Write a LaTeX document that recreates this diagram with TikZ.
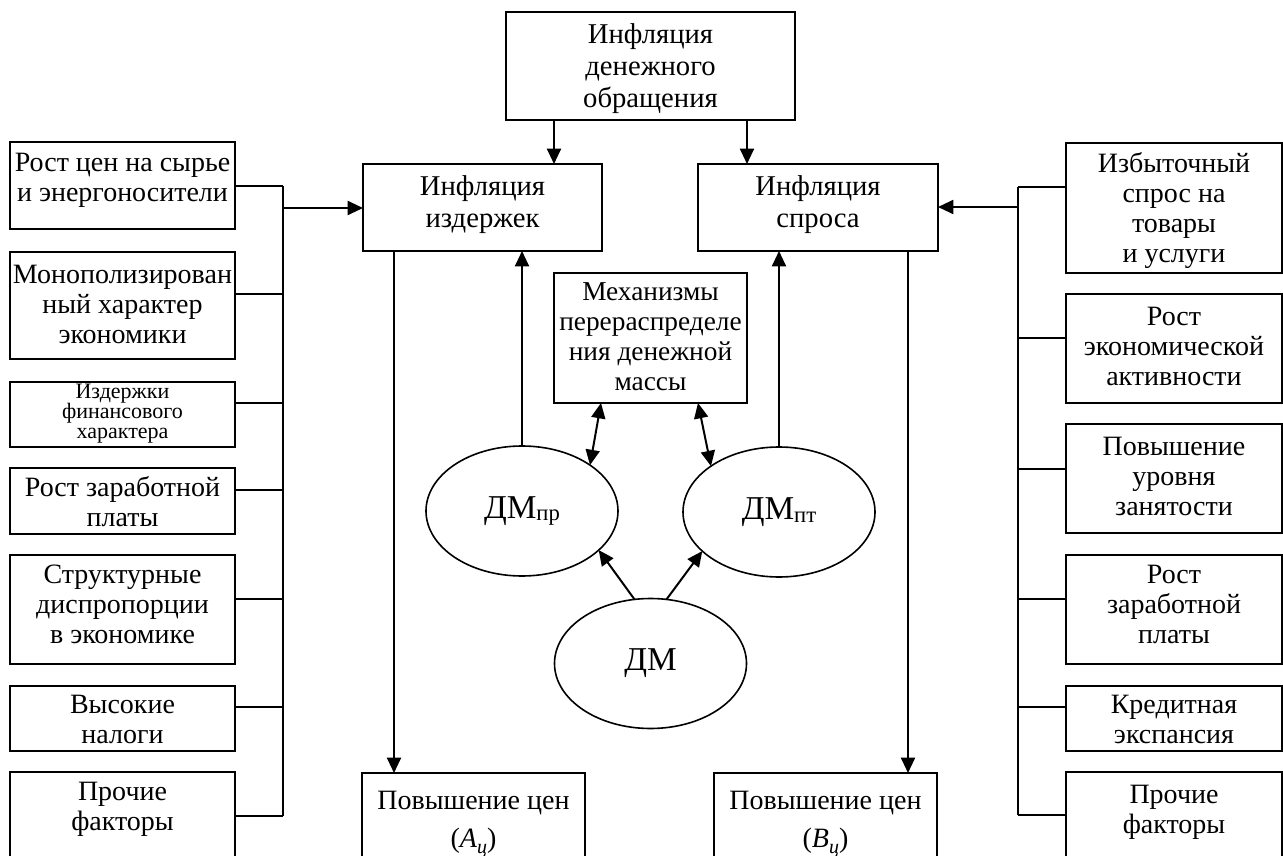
\documentclass[tikz,border=0pt]{standalone}
\usepackage{fontspec}
\setmainfont{Liberation Serif}
\usetikzlibrary{arrows.meta,shapes.geometric}
\newcommand\pxbox[6]{%
  \node[boxst, minimum width={(#4-#2)*0.75pt}, minimum height={(#5-#3)*0.75pt}, #6] (#1) at ({(#2+#4)/2},{(#3+#5)/2}) {};}
\newcommand\pxtxt[6][24]{%
  \node[txtst, #5] (#2) at ([yshift={-(#4-#1)*0.75pt}]#3.north) {\rule{0pt}{\dimexpr #1pt*3/4\relax}#6};}
\newcommand\dmtext[1]{{\fontsize{25}{25}\selectfont ДМ}{\fontsize{17}{17}\selectfont\raisebox{-0.12em}{#1}}}
\begin{document}
\begin{tikzpicture}[x=0.75pt,y=-0.75pt,
  boxst/.style={draw, line width=1.2pt, rectangle, inner sep=0pt, outer sep=0pt},
  txtst/.style={align=center, inner sep=0pt, anchor=north, font=\fontsize{21}{22.5}\selectfont},
  smalltxt/.style={font=\fontsize{16.5}{15}\selectfont},
  ell/.style={draw, line width=1.2pt, ellipse, inner sep=0pt, outer sep=0pt, minimum width=192*0.75pt, minimum height=130*0.75pt},
  conn/.style={line width=1.5pt},
  arr/.style={line width=1.5pt, -{Triangle[length=11.5pt,width=10.5pt]}},
  darr/.style={line width=1.5pt, {Triangle[length=11.5pt,width=10.5pt]}-{Triangle[length=11.5pt,width=10.5pt]}}]
\fill[white] (0,0) rectangle (1283,856);
\useasboundingbox (0,0) rectangle (1283,856);

% central boxes
\pxbox{top}{506}{12}{795}{120}{}
\pxtxt{topt}{top}{31}{font=\fontsize{21.5}{24}\selectfont}{Инфляция\\денежного\\обращения}
\pxbox{izd}{363}{164}{602}{251}{}
\pxtxt{izdt}{izd}{31}{font=\fontsize{21.5}{24}\selectfont}{Инфляция\\издержек}
\pxbox{spr}{698}{164}{938}{251}{}
\pxtxt{sprt}{spr}{31}{font=\fontsize{21.5}{24}\selectfont}{Инфляция\\спроса}
\pxbox{mech}{554}{273}{747}{403}{}
\pxtxt{mecht}{mech}{27}{font=\fontsize{20.5}{22.5}\selectfont}{Механизмы\\перераспределе\\ния денежной\\массы}
\pxbox{pa}{362}{773}{585}{880}{}
\pxtxt{pat}{pa}{36}{}{Повышение цен\\[6pt](\textit{A}{\fontsize{15}{15}\selectfont\raisebox{-0.3em}{\textit{ц}}})}
\pxbox{pb}{714}{773}{937}{880}{}
\pxtxt{pbt}{pb}{36}{}{Повышение цен\\[6pt](\textit{B}{\fontsize{15}{15}\selectfont\raisebox{-0.3em}{\textit{ц}}})}

% ellipses
\node[ell] (dmpr) at (522,511) {\dmtext{пр}};
\node[ell] (dmpt) at (779,512) {\dmtext{пт}};
\node[ell] (dm) at (650.5,663.5) {{\fontsize{25}{25}\selectfont ДМ}};

% left boxes
\pxbox{L1}{10}{142}{235}{229}{}
\pxtxt{L1t}{L1}{29}{}{Рост цен на сырье\\и энергоносители}
\pxbox{L2}{10}{252}{235}{359}{}
\pxtxt{L2t}{L2}{31}{}{Монополизирован\\ный характер\\экономики}
\pxbox{L3}{10}{382}{235}{447}{}
\pxtxt[15]{L3t}{L3}{16}{smalltxt}{Издержки\\финансового\\характера}
\pxbox{L4}{10}{468}{235}{534}{}
\pxtxt{L4t}{L4}{28}{}{Рост заработной\\платы}
\pxbox{L5}{10}{555}{235}{664}{}
\pxtxt{L5t}{L5}{28}{}{Структурные\\диспропорции\\в экономике}
\pxbox{L6}{10}{686}{235}{751}{}
\pxtxt{L6t}{L6}{27}{}{Высокие\\налоги}
\pxbox{L7}{10}{772}{235}{880}{}
\pxtxt{L7t}{L7}{28}{}{Прочие\\факторы}

% right boxes
\pxbox{R1}{1066}{143}{1282}{273}{}
\pxtxt{R1t}{R1}{29}{}{Избыточный\\спрос на\\товары\\и услуги}
\pxbox{R2}{1066}{294}{1282}{403}{}
\pxtxt{R2t}{R2}{31}{}{Рост\\экономической\\активности}
\pxbox{R3}{1066}{424}{1282}{533}{}
\pxtxt{R3t}{R3}{31}{}{Повышение\\уровня\\занятости}
\pxbox{R4}{1066}{555}{1282}{664}{}
\pxtxt{R4t}{R4}{28}{}{Рост\\заработной\\платы}
\pxbox{R5}{1066}{686}{1282}{751}{}
\pxtxt{R5t}{R5}{27}{}{Кредитная\\экспансия}
\pxbox{R6}{1066}{772}{1282}{880}{}
\pxtxt{R6t}{R6}{31}{}{Прочие\\факторы}

% helper coordinates
\coordinate (a1) at (554,0);
\coordinate (a2) at (747,0);
\coordinate (d1) at (394,0);
\coordinate (d2) at (908,0);
\coordinate (m1) at (601,0);
\coordinate (m2) at (698,0);

% left bus
\coordinate (jL1) at (283,186);
\coordinate (jL2) at (283,294);
\coordinate (jL3) at (283,403);
\coordinate (jL4) at (283,490);
\coordinate (jL5) at (283,599);
\coordinate (jL6) at (283,707);
\coordinate (jL7) at (283,816);
\coordinate (jLa) at (283,208);
\foreach \i in {1,...,7} {\draw[conn] (L\i.east |- jL\i) -- (jL\i);}
\draw[conn] (jL1) -- (jL7);
\draw[arr] (jLa) -- (izd.west |- jLa);

% right bus
\coordinate (jR1) at (1018,187);
\coordinate (jR2) at (1018,338);
\coordinate (jR3) at (1018,469);
\coordinate (jR4) at (1018,599);
\coordinate (jR5) at (1018,707);
\coordinate (jR6) at (1018,815);
\coordinate (jRa) at (1018,207);
\foreach \i in {1,...,6} {\draw[conn] (R\i.west |- jR\i) -- (jR\i);}
\draw[conn] (jR1) -- (jR6);
\draw[arr] (jRa) -- (spr.east |- jRa);

% top arrows
\draw[arr] (top.south -| a1) -- (izd.north -| a1);
\draw[arr] (top.south -| a2) -- (spr.north -| a2);

% down to price boxes
\draw[arr] (izd.south -| d1) -- (pa.north -| d1);
\draw[arr] (spr.south -| d2) -- (pb.north -| d2);

% up from ellipses
\draw[arr] (dmpr.north) -- (izd.south -| dmpr.north);
\draw[arr] (dmpt.north) -- (spr.south -| dmpt.north);

% mechanism double arrows
\draw[darr] (mech.south -| m1) -- (dmpr.34);
\draw[darr] (mech.south -| m2) -- (dmpt.146);

% DM arrows
\draw[arr] (dm.104) -- (dmpr.-27);
\draw[arr] (dm.76) -- (dmpt.207);
\end{tikzpicture}
\end{document}
